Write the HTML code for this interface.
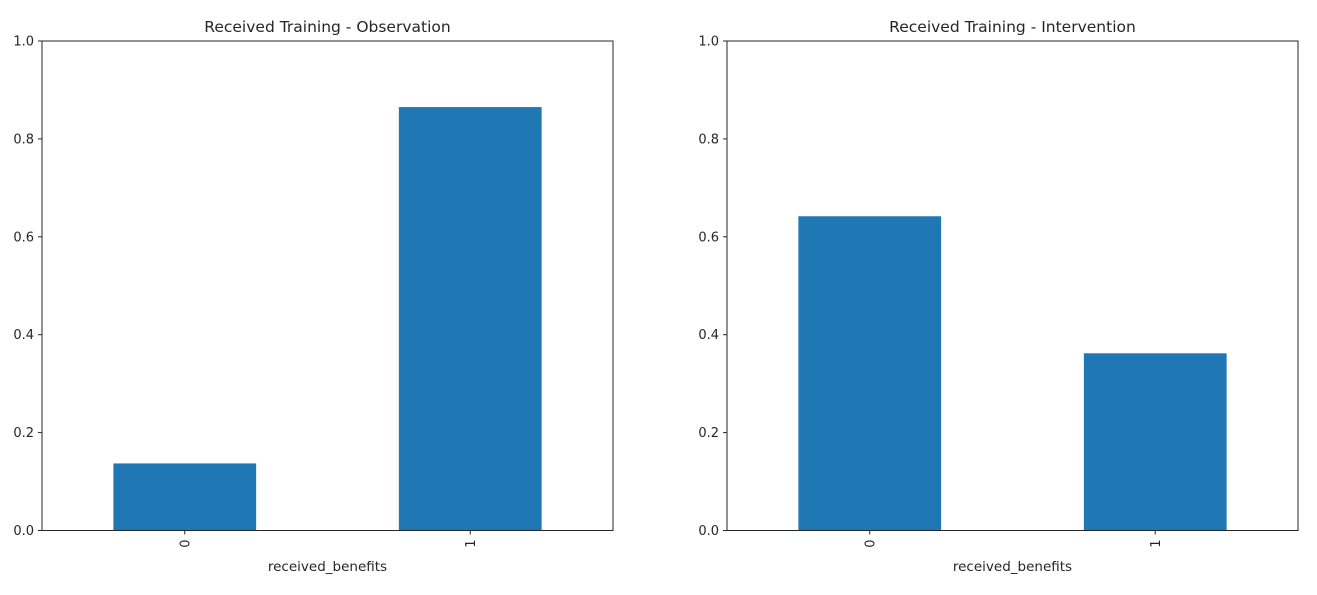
<!DOCTYPE html>
<html><head><meta charset="utf-8"><style>
body{margin:0;background:#fff;}
svg text{font-family:"DejaVu Sans","Liberation Sans",sans-serif;fill:#262626;}
</style></head><body>
<svg id="chart" width="1317" height="590"></svg>
<script>
const categories = ["0","1"];
const obsValues = [0.137, 0.865];
const intValues = [0.642, 0.362];
const yTicks = [0, 0.2, 0.4, 0.6, 0.8, 1.0];
const yTickLabels = ["0.0","0.2","0.4","0.6","0.8","1.0"];
const titles = ["Received Training - Observation","Received Training - Intervention"];
const xLabel = "received_benefits";

const NS = "http://www.w3.org/2000/svg";
const svg = document.getElementById("chart");
function mk(tag, attrs, parent){
  const e = document.createElementNS(NS, tag);
  for (const k in attrs) e.setAttribute(k, attrs[k]);
  (parent||svg).appendChild(e);
  return e;
}
function panel(x0, values, title, idx){
  const top = 41, bottom = 530.5, w = 571;
  const g = mk("g", {});
  
  
  const yScale = v => bottom - v*(bottom-top);
  const step = w/categories.length;
  const xScale = i => x0 + step*(i+0.5);
  values.forEach((v,i)=>{
    const r = mk("rect", {x:xScale(i)-step/4, y:yScale(v), width:step/2, height:bottom-yScale(v), fill:"#1f77b4"}, g);
    
    
  });
  const frame = mk("rect", {x:x0, y:top, width:w, height:bottom-top, fill:"none", stroke:"#262626", "stroke-width":1}, g);
  
  
  yTicks.forEach((t,i)=>{
    const y = yScale(t);
    mk("line", {x1:x0-4, x2:x0, y1:y, y2:y, stroke:"#262626"}, g);
    const tx = mk("text", {x:x0-8, y:y+4.5, "text-anchor":"end", "font-size":"13"}, g);
    tx.textContent = yTickLabels[i];
    
    
  });
  categories.forEach((c,i)=>{
    const x = xScale(i);
    mk("line", {x1:x, x2:x, y1:bottom, y2:bottom+4, stroke:"#262626"}, g);
    const tx = mk("text", {x:x+4.5, y:bottom+9, "text-anchor":"end", "font-size":"13", transform:`rotate(-90 ${x+4.5} ${bottom+9})`}, g);
    tx.textContent = c;
    
    
  });
  const xl = mk("text", {x:x0+w/2, y:571, "text-anchor":"middle", "font-size":"13.5"}, g);
  xl.textContent = xLabel;
  
  
  const tt = mk("text", {x:x0+w/2, y:32, "text-anchor":"middle", "font-size":"15.5"}, g);
  tt.textContent = title;
  
  
}
panel(42, obsValues, titles[0], "observation");
panel(727, intValues, titles[1], "intervention");
</script>
</body></html>
